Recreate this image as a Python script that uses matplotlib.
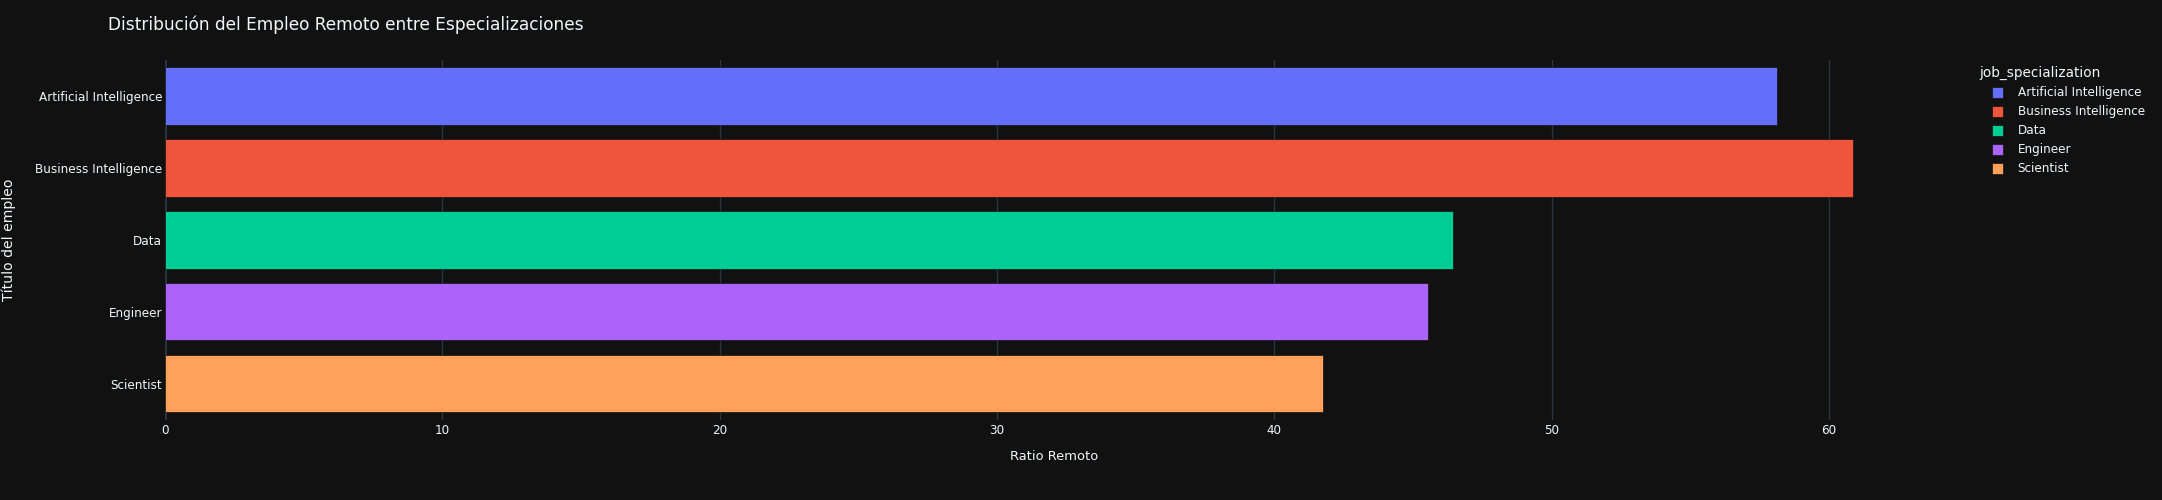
import matplotlib
matplotlib.use("Agg")
import matplotlib.pyplot as plt
from matplotlib.patches import Rectangle

categories = ["Artificial Intelligence", "Business Intelligence", "Data", "Engineer", "Scientist"]
remote_ratio = [58.14, 60.88, 46.45, 45.55, 41.77]
colors = ["#636efa", "#EF553B", "#00cc96", "#ab63fa", "#FFA15A"]
x_ticks = [0, 10, 20, 30, 40, 50, 60]

plt.rcParams['font.family'] = ['DejaVu Sans']
W, H = 2162, 500
fig = plt.figure(figsize=(W / 100, H / 100), dpi=100)
fig.patch.set_facecolor("#111111")

left, right, top, bottom = 165.0, 1942.5, 60, 419.5
ax = fig.add_axes([left / W, 1 - bottom / H, (right - left) / W, (bottom - top) / H])
ax.set_facecolor("#111111")

txt = "#f2f5fa"
grid = "#283442"
ypos = list(range(len(categories)))
for i, (c, v, col) in enumerate(zip(categories, remote_ratio, colors)):
    ax.barh(i, v, height=0.8, color=col, edgecolor="#111111", linewidth=0.5, zorder=3, label=c)

ax.set_ylim(len(categories) - 0.5, -0.5)
ax.set_xlim(0, 64.1)
ax.set_xticks(x_ticks)
ax.set_xticklabels([str(t) for t in x_ticks])
ax.set_yticks(ypos)
ax.set_yticklabels(categories)
ax.tick_params(axis="both", length=0, colors=txt, labelsize=8.64)
ax.tick_params(axis="x", pad=3)
ax.tick_params(axis="y", pad=2)
ax.grid(axis="x", color=grid, linewidth=1, zorder=0)
for s in ax.spines.values():
    s.set_visible(False)
ax.axvline(0, color=grid, linewidth=2, zorder=2)

ax.set_xlabel("Ratio Remoto", color=txt, fontsize=9.4)
ax.xaxis.set_label_coords(0.5, -(456 - bottom) / (bottom - top))
ax.xaxis.label.set_va("center")
ax.set_ylabel("Título del empleo", color=txt, fontsize=10.08)
ax.yaxis.set_label_coords(-(left - 8.8) / (right - left), 0.5)
ax.yaxis.label.set_va("center")

fig.text(108 / W, 1 - 25 / H, "Distribución del Empleo Remoto entre Especializaciones",
         color=txt, fontsize=12.24, ha="left", va="center")

# legend drawn manually (plotly style)
fig.text(1979 / W, 1 - 73 / H, "job_specialization", color=txt, fontsize=9.8,
         ha="left", va="center")
for i, (c, col) in enumerate(zip(categories, colors)):
    yc = 92.5 + 19.0 * i
    fig.add_artist(Rectangle((1991.7 / W, 1 - (yc + 5.8) / H), 11.6 / W, 11.6 / H,
                             transform=fig.transFigure, facecolor=col,
                             edgecolor="#111111", linewidth=0.5))
    fig.text(2017.7 / W, 1 - yc / H, c, color=txt, fontsize=8.64, ha="left", va="center")

fig.savefig("out.png", dpi=100, facecolor=fig.get_facecolor())
